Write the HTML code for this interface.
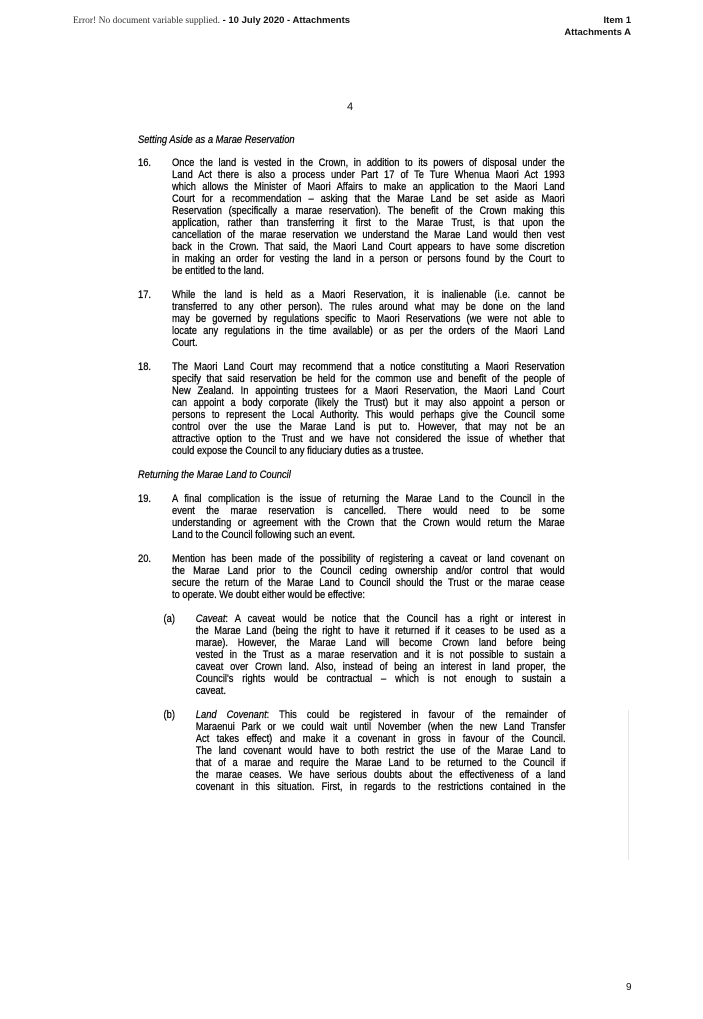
<!DOCTYPE html>
<html><head><meta charset="utf-8"><style>
html,body{margin:0;padding:0;background:#fff;}
body{width:703px;height:1019px;position:relative;overflow:hidden;color:#111;}
.a{position:absolute;white-space:nowrap;}
.hdr{font-family:"Liberation Sans",sans-serif;font-weight:bold;font-size:9.5px;line-height:12px;}
.blk{position:absolute;transform:scaleX(0.85);transform-origin:0 0;font-family:"Liberation Sans",sans-serif;font-size:11px;line-height:12px;color:#000;-webkit-text-stroke:0.25px #000;}
.ln{position:absolute;white-space:nowrap;height:12px;}
.j{text-align:justify;text-align-last:justify;white-space:normal;overflow:hidden;height:12px;}
.i{font-style:italic;}
</style></head><body>
<div class="a" style="left:73px;top:15px;font-size:9.5px;line-height:12px;"><span style="font-family:'Liberation Serif',serif;color:#333">Error! No document variable supplied.</span><span class="hdr"> - 10 July 2020 - Attachments</span></div>
<div class="a hdr" style="right:72px;top:15px;text-align:right;">Item 1<br>Attachments A</div>
<div class="a" style="left:347px;top:101px;font-family:'Liberation Sans',sans-serif;font-size:11px;">4</div>
<div class="a" style="left:626px;top:982px;font-family:'Liberation Sans',sans-serif;font-size:10px;">9</div>
<div class="a" style="left:628px;top:710px;width:1px;height:150px;background:#e6e6e6;"></div>

<div class="blk" style="left:138px;top:134px;width:520px;height:700px;">
<div class="ln i" style="top:0">Setting Aside as a Marae Reservation</div>

<div class="ln" style="top:23px">16.</div>
<div style="position:absolute;left:40px;top:23px;width:462px">
<div class="j">Once the land is vested in the Crown, in addition to its powers of disposal under the</div>
<div class="j">Land Act there is also a process under Part 17 of Te Ture Whenua Maori Act 1993</div>
<div class="j">which allows the Minister of Maori Affairs to make an application to the Maori Land</div>
<div class="j">Court for a recommendation – asking that the Marae Land be set aside as Maori</div>
<div class="j">Reservation (specifically a marae reservation). The benefit of the Crown making this</div>
<div class="j">application, rather than transferring it first to the Marae Trust, is that upon the</div>
<div class="j">cancellation of the marae reservation we understand the Marae Land would then vest</div>
<div class="j">back in the Crown. That said, the Maori Land Court appears to have some discretion</div>
<div class="j">in making an order for vesting the land in a person or persons found by the Court to</div>
<div>be entitled to the land.</div>
</div>

<div class="ln" style="top:155px">17.</div>
<div style="position:absolute;left:40px;top:155px;width:462px">
<div class="j">While the land is held as a Maori Reservation, it is inalienable (i.e. cannot be</div>
<div class="j">transferred to any other person). The rules around what may be done on the land</div>
<div class="j">may be governed by regulations specific to Maori Reservations (we were not able to</div>
<div class="j">locate any regulations in the time available) or as per the orders of the Maori Land</div>
<div>Court.</div>
</div>

<div class="ln" style="top:227px">18.</div>
<div style="position:absolute;left:40px;top:227px;width:462px">
<div class="j">The Maori Land Court may recommend that a notice constituting a Maori Reservation</div>
<div class="j">specify that said reservation be held for the common use and benefit of the people of</div>
<div class="j">New Zealand. In appointing trustees for a Maori Reservation, the Maori Land Court</div>
<div class="j">can appoint a body corporate (likely the Trust) but it may also appoint a person or</div>
<div class="j">persons to represent the Local Authority. This would perhaps give the Council some</div>
<div class="j">control over the use the Marae Land is put to. However, that may not be an</div>
<div class="j">attractive option to the Trust and we have not considered the issue of whether that</div>
<div>could expose the Council to any fiduciary duties as a trustee.</div>
</div>

<div class="ln i" style="top:335px">Returning the Marae Land to Council</div>

<div class="ln" style="top:359px">19.</div>
<div style="position:absolute;left:40px;top:359px;width:462px">
<div class="j">A final complication is the issue of returning the Marae Land to the Council in the</div>
<div class="j">event the marae reservation is cancelled. There would need to be some</div>
<div class="j">understanding or agreement with the Crown that the Crown would return the Marae</div>
<div>Land to the Council following such an event.</div>
</div>

<div class="ln" style="top:419px">20.</div>
<div style="position:absolute;left:40px;top:419px;width:462px">
<div class="j">Mention has been made of the possibility of registering a caveat or land covenant on</div>
<div class="j">the Marae Land prior to the Council ceding ownership and/or control that would</div>
<div class="j">secure the return of the Marae Land to Council should the Trust or the marae cease</div>
<div>to operate. We doubt either would be effective:</div>
</div>

<div class="ln" style="top:479px;left:30px">(a)</div>
<div style="position:absolute;left:68px;top:479px;width:435px">
<div class="j"><i>Caveat</i>: A caveat would be notice that the Council has a right or interest in</div>
<div class="j">the Marae Land (being the right to have it returned if it ceases to be used as a</div>
<div class="j">marae). However, the Marae Land will become Crown land before being</div>
<div class="j">vested in the Trust as a marae reservation and it is not possible to sustain a</div>
<div class="j">caveat over Crown land. Also, instead of being an interest in land proper, the</div>
<div class="j">Council's rights would be contractual – which is not enough to sustain a</div>
<div>caveat.</div>
</div>

<div class="ln" style="top:575px;left:30px">(b)</div>
<div style="position:absolute;left:68px;top:575px;width:435px">
<div class="j"><i>Land Covenant</i>: This could be registered in favour of the remainder of</div>
<div class="j">Maraenui Park or we could wait until November (when the new Land Transfer</div>
<div class="j">Act takes effect) and make it a covenant in gross in favour of the Council.</div>
<div class="j">The land covenant would have to both restrict the use of the Marae Land to</div>
<div class="j">that of a marae and require the Marae Land to be returned to the Council if</div>
<div class="j">the marae ceases. We have serious doubts about the effectiveness of a land</div>
<div class="j">covenant in this situation. First, in regards to the restrictions contained in the</div>
</div>
</div>
</body></html>
